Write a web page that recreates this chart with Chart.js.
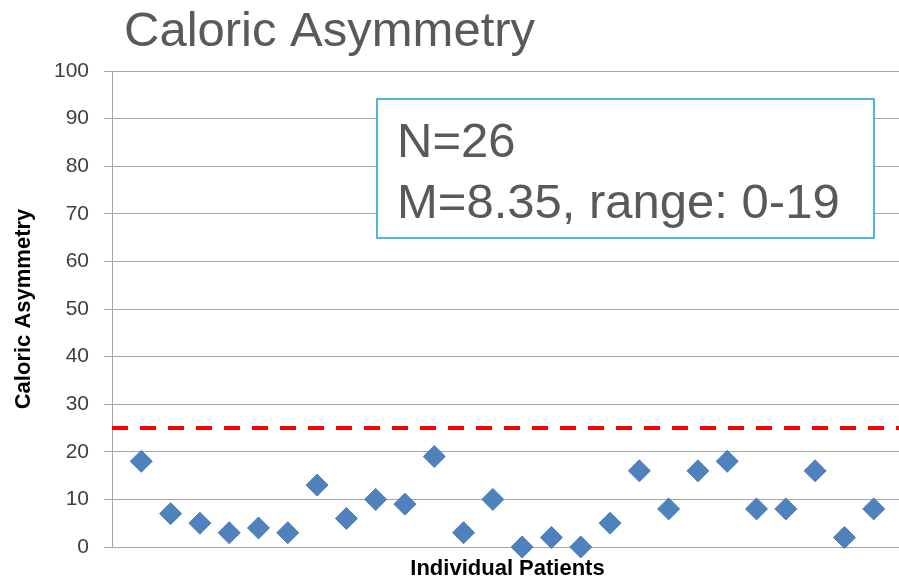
<!DOCTYPE html>
<html><head><meta charset="utf-8">
<script src="https://cdn.jsdelivr.net/npm/chart.js@4.4.1/dist/chart.umd.min.js"></script>
<style>
html,body{margin:0;padding:0;overflow:hidden;background:#fff;width:899px;height:583px}
#wrap{width:915px;height:583px}
</style></head>
<body><div id="wrap"><canvas id="c" width="915" height="583"></canvas></div>
<script>
const patients = [1,2,3,4,5,6,7,8,9,10,11,12,13,14,15,16,17,18,19,20,21,22,23,24,25,26];
const asymmetry = [18,7,5,3,4,3,13,6,10,9,19,3,10,0,2,0,5,16,8,16,18,8,8,16,2,8];
const yTicks = [0,10,20,30,40,50,60,70,80,90,100];
const threshold = 25;
const xRange = [0, 27];
const chartTitle = 'Caloric Asymmetry';
const statLines = ['N=26', 'M=8.35, range: 0-19'];
const yAxisTitle = 'Caloric Asymmetry';
const xAxisTitle = 'Individual Patients';

const overlay = {
  id: 'overlay',
  afterDraw(chart) {
    const ctx = chart.ctx;
    ctx.save();
    ctx.font = '49px "Liberation Sans", Arial, sans-serif';
    ctx.fillStyle = '#595959';
    ctx.textBaseline = 'alphabetic';
    ctx.textAlign = 'left';
    ctx.fillText(chartTitle, 124, 46);
    // stats box
    ctx.fillStyle = '#ffffff';
    ctx.fillRect(377, 99, 497, 139);
    ctx.strokeStyle = '#1f9bd7';
    ctx.lineWidth = 1.5;
    ctx.strokeRect(377, 99, 497, 139);
    ctx.fillStyle = '#595959';
    ctx.fillText(statLines[0], 397, 157);
    ctx.fillText(statLines[1], 397, 218);
    ctx.restore();
  }
};

new Chart(document.getElementById('c'), {
  type: 'scatter',
  data: {
    datasets: [
      {
        label: 'Caloric Asymmetry',
        data: patients.map((p, i) => ({x: p, y: asymmetry[i]})),
        pointStyle: 'rectRot',
        pointRadius: 11,
        pointHoverRadius: 11,
        backgroundColor: '#4f81bd',
        borderColor: '#4a7ebb',
        borderWidth: 1,
        clip: false
      },
      {
        type: 'line',
        label: 'Threshold',
        data: [{x: xRange[0], y: threshold}, {x: xRange[1], y: threshold}],
        borderColor: '#ff0000',
        borderWidth: 4,
        borderDash: [16, 12],
        pointRadius: 0,
        fill: false
      }
    ]
  },
  options: {
    responsive: false,
    animation: false,
    devicePixelRatio: 1,
    layout: {padding: {top: 71, left: 0, right: 0, bottom: 0}},
    plugins: {legend: {display: false}, tooltip: {enabled: false}, title: {display: false}},
    scales: {
      x: {
        type: 'linear',
        min: xRange[0],
        max: xRange[1],
        grid: {display: false},
        border: {display: false},
        ticks: {display: false},
        title: {
          display: true,
          text: xAxisTitle,
          color: '#000',
          font: {family: '"Liberation Sans", Arial, sans-serif', size: 22, weight: 'bold'},
          padding: {top: 0, bottom: 1}
        },
        afterFit(scale) { scale.height = 36; }
      },
      y: {
        min: 0,
        max: 100,
        afterBuildTicks(scale) { scale.ticks = yTicks.map(v => ({value: v})); },
        grid: {color: '#a6a6a6', lineWidth: 1, tickLength: 8, drawTicks: true},
        border: {display: true, color: '#a6a6a6', width: 1},
        ticks: {
          color: '#404040',
          padding: 15,
          font: {family: '"Liberation Sans", Arial, sans-serif', size: 21}
        },
        title: {
          display: true,
          text: yAxisTitle,
          color: '#000',
          font: {family: '"Liberation Sans", Arial, sans-serif', size: 22, weight: 'bold'},
          padding: {top: 11, bottom: 0}
        },
        afterFit(scale) { scale.width = 112; }
      }
    }
  },
  plugins: [overlay]
});
</script>
</body></html>
